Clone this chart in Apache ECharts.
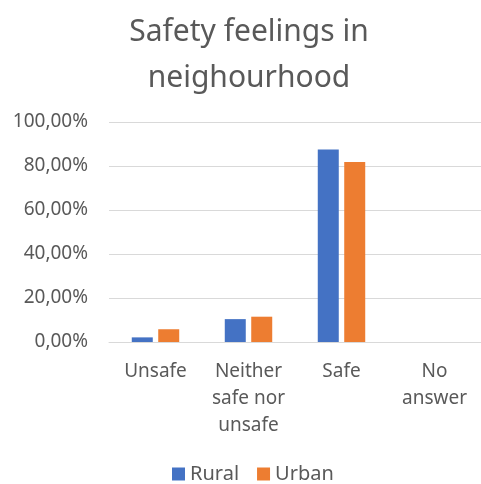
<!DOCTYPE html>
<html>
<head>
<meta charset="utf-8">
<script src="https://cdn.jsdelivr.net/npm/echarts@6/dist/echarts.min.js"></script>
<style>
  html, body { margin: 0; padding: 0; background: #fff; }
  #chart { width: 481px; height: 484px; }
</style>
</head>
<body>
<div id="chart"></div>
<script>
const categories = ["Unsafe", "Neither\nsafe nor\nunsafe", "Safe", "No\nanswer"];
const rural = [2.1, 10.4, 87.5, 0];
const urban = [5.8, 11.5, 81.8, 0];
const yTicks = [0, 20, 40, 60, 80, 100];

const textColor = "#595959";
const font = "Noto Sans";

const chart = echarts.init(document.getElementById("chart"), null, { renderer: "canvas" });

chart.setOption({
  animation: false,
  color: ["#4472C4", "#ED7D31"],
  title: {
    text: "Safety feelings in\nneighourhood",
    left: 244,
    textAlign: "center",
    top: 4,
    textStyle: {
      color: textColor,
      fontFamily: font,
      fontWeight: "normal",
      fontSize: 30,
      lineHeight: 46
    }
  },
  legend: {
    top: 459,
    left: 167,
    itemWidth: 13,
    itemHeight: 13,
    itemGap: 18,
    icon: "rect",
    textStyle: { color: textColor, fontFamily: font, fontSize: 20 },
    data: ["Rural", "Urban"]
  },
  grid: {
    left: 109,
    right: 0,
    top: 122,
    bottom: 142
  },
  xAxis: {
    type: "category",
    data: categories,
    axisTick: { show: false },
    axisLine: { lineStyle: { color: "#d9d9d9", width: 1 } },
    axisLabel: {
      color: textColor,
      fontFamily: font,
      fontSize: 19,
      lineHeight: 27,
      margin: 16,
      interval: 0
    }
  },
  yAxis: {
    type: "value",
    min: yTicks[0],
    max: yTicks[yTicks.length - 1],
    interval: 20,
    axisLine: { show: false },
    axisTick: { show: false },
    splitLine: { lineStyle: { color: "#d9d9d9", width: 1 } },
    axisLabel: {
      color: textColor,
      fontFamily: font,
      fontSize: 19,
      margin: 21,
      formatter: (value) => value.toFixed(2).replace(".", ",") + "%"
    }
  },
  series: [
    { name: "Rural", type: "bar", data: rural, barWidth: 21, barGap: "26%" },
    { name: "Urban", type: "bar", data: urban, barWidth: 21, barGap: "26%" }
  ]
});
</script>
</body>
</html>
